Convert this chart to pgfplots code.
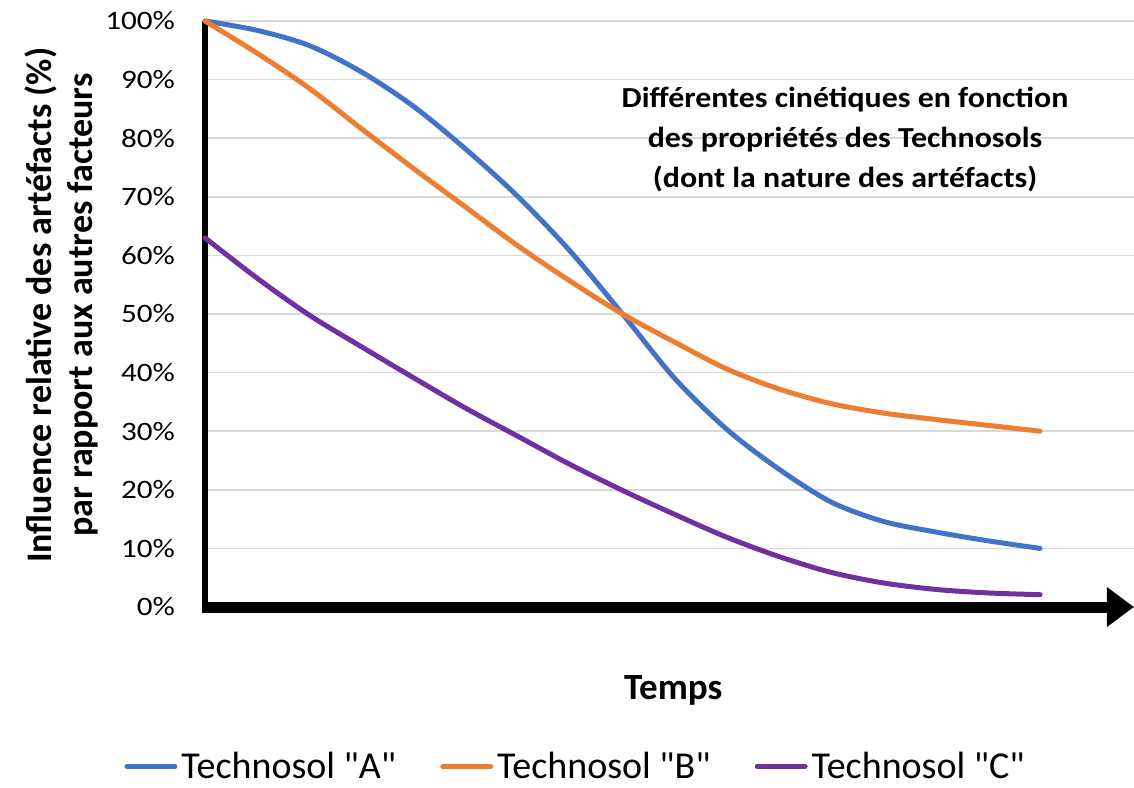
\documentclass[border=0pt]{standalone}
\usepackage{pgfplots}
\pgfplotsset{compat=1.18}
\usepackage{fontspec}
\setmainfont{Carlito}[Ligatures=TeXOff]
\usetikzlibrary{arrows.meta}
\definecolor{cA}{HTML}{4472C4}
\definecolor{cB}{HTML}{ED7D31}
\definecolor{cC}{HTML}{7030A0}
\definecolor{gridc}{HTML}{D9D9D9}
\begin{document}
\begin{tikzpicture}
\begin{axis}[
  at={(0,0)}, anchor=south west,
  scale only axis,
  width=464.5pt, height=293pt,
  xmin=0, xmax=8.9, ymin=0, ymax=100,
  clip=false,
  axis x line=bottom, axis y line=left,
  x axis line style={line width=5.5pt, line cap=butt, -{Triangle[length=13.5pt,width=19pt]}, shorten <=-1.5pt},
  y axis line style={line width=3pt, -},
  xtick=\empty,
  ytick={0,10,...,100},
  yticklabel={\scalebox{1.17}[1]{\pgfmathprintnumber{\tick}\%}},
  /pgf/number format/assume math mode=true,
  major tick length=0pt,
  yticklabel style={font=\fontsize{13.3}{16}\selectfont, anchor=east, xshift=-11.5pt},
  ymajorgrids,
  grid style={gridc, line width=0.75pt},
  ylabel={Influence relative des artéfacts (\%)\\par rapport aux autres facteurs},
  ylabel style={font=\bfseries\fontsize{18}{20.5}\selectfont, align=center, at={(axis description cs:-0.155,0.515)}, anchor=center, rotate=0},
  xlabel={Temps},
  xlabel style={font=\bfseries\fontsize{18.5}{20}\selectfont, at={(axis description cs:0.504,-0.142)}, anchor=center},
  legend style={draw=none, fill=none, at={(axis description cs:0.40,-0.272)}, anchor=center,
    legend columns=3, font=\fontsize{19}{22}\selectfont,
    /tikz/every even column/.append style={column sep=20pt}},
  legend image code/.code={\draw[#1, line width=2.5pt, line cap=round] (0pt,0pt) -- (24pt,0pt);},
  every axis plot/.append style={line width=2.5pt, line cap=round, smooth},
]
\addplot[cA] coordinates {(0,100) (0.5,98.4) (1,95.8) (1.5,91.3) (2,85.4) (2.5,78.1) (3,70.0) (3.5,60.7) (4,50) (4.5,39.0) (5,30.3) (5.5,23.5) (6,17.9) (6.5,14.6) (7,12.8) (7.5,11.3) (8,10)};
\addlegendentry{Technosol "A"}
\addplot[cB] coordinates {(0,100) (0.5,94.5) (1,88.5) (1.5,81.6) (2,74.8) (2.5,68.2) (3,61.6) (3.5,55.6) (4,50) (4.5,45.2) (5,40.6) (5.5,37.2) (6,34.7) (6.5,33.1) (7,32.0) (7.5,31.0) (8,30)};
\addlegendentry{Technosol "B"}
\addplot[cC] coordinates {(0,63) (0.5,56.1) (1,49.8) (1.5,44.4) (2,39.1) (2.5,33.9) (3,29.1) (3.5,24.3) (4,19.9) (4.5,15.8) (5,11.9) (5.5,8.6) (6,5.9) (6.5,4.1) (7,3.0) (7.5,2.4) (8,2.1)};
\addlegendentry{Technosol "C"}
\node[font=\bfseries\fontsize{14.5}{20}\selectfont, align=center] at (axis description cs:0.689,0.797)
  {\scalebox{1.1}[1]{Différentes cinétiques en fonction}\\\scalebox{1.1}[1]{des propriétés des Technosols}\\\scalebox{1.1}[1]{(dont la nature des artéfacts)}};
\end{axis}
\pgfresetboundingbox
\path (-102.5pt,-90pt) rectangle (464.5pt,303.5pt);
\end{tikzpicture}
\end{document}
